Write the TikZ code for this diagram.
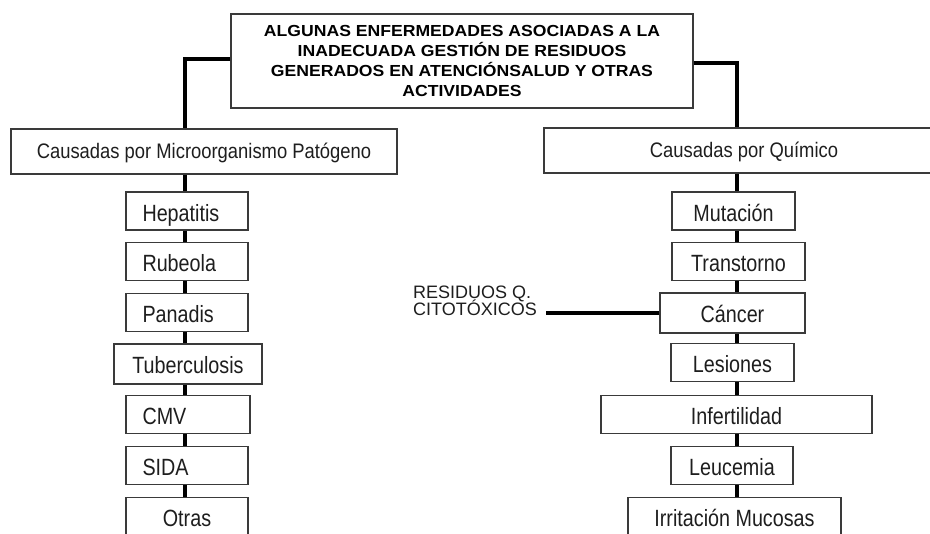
\documentclass[tikz,border=0pt]{standalone}
\usepackage{fontspec}
\setmainfont{Liberation Sans}
\newfontfamily\boxfont[FakeStretch=0.84]{Liberation Sans}
\newfontfamily\catfont[FakeStretch=0.876]{Liberation Sans}
\newfontfamily\ttlfont[FakeStretch=1.1]{Liberation Sans}
\usetikzlibrary{calc}
\definecolor{boxgray}{HTML}{3A3A3A}
\definecolor{txt}{HTML}{1E1E1E}
\newcommand\mytightlines{\lineskiplimit=-20pt\relax}
\begin{document}
\begin{tikzpicture}[x=1pt,y=-1pt,
  conn/.style={draw=black, line width=3.2pt},
  bx/.style={draw=boxgray, line width=1.4pt, fill=white, inner xsep=0pt, inner ysep=0pt,
    text height=29.5pt, text depth=8.5pt, text=txt,
    font=\boxfont\fontsize{23.5}{26}\selectfont},
  lbx/.style={bx, align=left, inner xsep=16.5pt, text width=#1},
  cbx/.style={bx, align=center, minimum width=#1},
  tall/.style={text height=30pt, text depth=10pt},
  cat/.style={draw=boxgray, line width=1.4pt, fill=white, inner sep=0pt,
    text height=29.3pt, text depth=15.7pt, text=txt,
    font=\catfont\fontsize{21}{24}\selectfont},
  ttl/.style={draw=boxgray, line width=1.4pt, fill=white, inner sep=0pt,
    minimum width=462pt, minimum height=94pt, align=center, text=black,
    font=\ttlfont\bfseries\fontsize{16}{19.7}\selectfont},
  note/.style={inner sep=0pt, align=left, text=txt,
    font=\fontsize{18}{16.8}\selectfont\mytightlines}
]
\useasboundingbox (0,0) rectangle (930,534);
\clip (0,0) rectangle (930,534);
\fill[white] (0,0) rectangle (930,534);

\coordinate (lc) at (185,0);
\coordinate (rc) at (737,0);

\node[ttl] (title) at (462,61) {ALGUNAS ENFERMEDADES ASOCIADAS A LA\\INADECUADA GESTIÓN DE RESIDUOS\\GENERADOS EN ATENCIÓNSALUD Y OTRAS\\ACTIVIDADES};

\node[cat, minimum width=386pt] (catL) at (204,151.5) {Causadas por Microorganismo Patógeno};
\node[cat, minimum width=400pt] (catR) at (744,150.5) {Causadas por Químico};

% left column
\node[lbx=89pt] (hep) at (187,211) {Hepatitis};
\node[lbx=89pt] (rub) at (187,261.5) {Rubeola};
\node[lbx=89pt] (pan) at (187,312.5) {Panadis};
\node[cbx=148pt, tall] (tub) at (188,364) {Tuberculosis};
\node[lbx=91pt] (cmv) at (188,414.5) {CMV};
\node[lbx=89pt] (sida) at (187,465.5) {SIDA};
\node[cbx=122pt] (otr) at (187,516.5) {Otras};

% right column
\node[cbx=123pt] (mut) at (733.5,211) {Mutación};
\node[cbx=133pt] (tra) at (738.5,261.5) {Transtorno};
\node[cbx=145pt, tall] (can) at (732.5,313) {Cáncer};
\node[cbx=123pt] (les) at (732.5,362.5) {Lesiones};
\node[cbx=271pt] (inf) at (736.5,414.5) {Infertilidad};
\node[cbx=122pt] (leu) at (732,465.5) {Leucemia};
\node[cbx=213pt] (irr) at (734.5,516.5) {Irritación Mucosas};

\node[note, anchor=north west] (res) at (413,286) {RESIDUOS Q.\\CITOTÓXICOS};

% connectors
\draw[conn] ([yshift=2pt]title.west) -| (catL.north -| lc);
\draw[conn] ([yshift=-2pt]title.east) -| (catR.north -| rc);
\foreach \a/\b in {catL/hep,hep/rub,rub/pan,pan/tub,tub/cmv,cmv/sida,sida/otr}
  \draw[conn] (\a.south -| lc) -- (\b.north -| lc);
\foreach \a/\b in {catR/mut,mut/tra,tra/can,can/les,les/inf,inf/leu,leu/irr}
  \draw[conn] (\a.south -| rc) -- (\b.north -| rc);
\draw[conn] (can.west) -- ($(res.east |- can.west)+(9,0)$);
\end{tikzpicture}
\end{document}
